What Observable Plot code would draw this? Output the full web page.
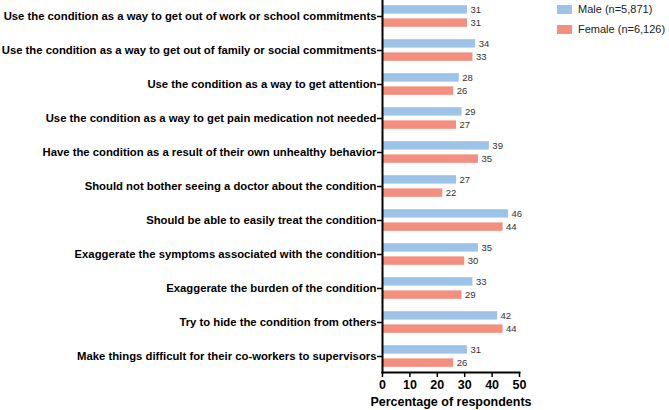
<!DOCTYPE html>
<html><head><meta charset="utf-8">
<script src="https://cdn.jsdelivr.net/npm/d3@7"></script>
<script src="https://cdn.jsdelivr.net/npm/@observablehq/plot@0.6"></script>
<style>
body{margin:0;background:#fff;font-family:"Liberation Sans",Arial,sans-serif;}
#wrap{position:relative;width:669px;height:410px;}
.leg{position:absolute;left:557px;font-size:11px;color:#222;display:flex;align-items:center;white-space:nowrap;}
.leg span.sw{display:inline-block;width:15px;height:9px;margin-right:6px;}
</style></head><body>
<div id="wrap"></div>
<script>
const categories = [
  "Use the condition as a way to get out of work or school commitments",
  "Use the condition as a way to get out of family or social commitments",
  "Use the condition as a way to get attention",
  "Use the condition as a way to get pain medication not needed",
  "Have the condition as a result of their own unhealthy behavior",
  "Should not bother seeing a doctor about the condition",
  "Should be able to easily treat the condition",
  "Exaggerate the symptoms associated with the condition",
  "Exaggerate the burden of the condition",
  "Try to hide the condition from others",
  "Make things difficult for their co-workers to supervisors"
];
const male = [31, 34, 28, 29, 39, 27, 46, 35, 33, 42, 31];
const female = [31, 33, 26, 27, 35, 22, 44, 30, 29, 44, 26];
const seriesNames = ["Male (n=5,871)", "Female (n=6,126)"];
const colors = ["#9dc3e8", "#f48e7e"];
const xTicks = [0, 10, 20, 30, 40, 50];

const maleData = categories.map((c, i) => ({cat: c, v: male[i]}));
const femaleData = categories.map((c, i) => ({cat: c, v: female[i]}));

const yTop = -1.8, yBottom = 374.4;
const barH = 8.6, off = 6.6;
const step = (yBottom - yTop) / categories.length;
const ins = (step - barH) / 2;

const chart = Plot.plot({
  width: 669, height: 410,
  marginLeft: 382, marginRight: 150, marginTop: 0, marginBottom: 38,
  style: {fontFamily: "Liberation Sans, Arial, sans-serif", color: "#000", background: "#fff"},
  x: {domain: [0, 50], label: null},
  y: {domain: categories, padding: 0, range: [yTop, yBottom], label: null},
  marks: [
    Plot.barX(maleData, {x: "v", y: "cat", fill: colors[0], dy: -off, insetTop: ins, insetBottom: ins}),
    Plot.barX(femaleData, {x: "v", y: "cat", fill: colors[1], dy: off, insetTop: ins, insetBottom: ins}),
    Plot.text(maleData, {x: "v", y: "cat", text: "v", dy: -off, dx: 3, textAnchor: "start", fontSize: 9.5, fill: "#333"}),
    Plot.text(femaleData, {x: "v", y: "cat", text: "v", dy: off, dx: 3, textAnchor: "start", fontSize: 9.5, fill: "#333"}),
    Plot.axisY({tickSize: 5, tickPadding: 1, fontSize: 11.3, fontWeight: "bold", strokeWidth: 1.5, label: null}),
    Plot.axisX({ticks: xTicks, tickSize: 5, tickPadding: 3, fontSize: 12.5, fontWeight: "bold", strokeWidth: 1.5, label: null}),
    Plot.frame({anchor: "left", strokeWidth: 2}),
    Plot.frame({anchor: "bottom", strokeWidth: 2}),
    Plot.text(["Percentage of respondents"], {frameAnchor: "bottom", dy: 33, fontSize: 12.5, fontWeight: "bold", fill: "#000"})
  ]
});
const wrap = document.getElementById("wrap");
wrap.appendChild(chart);
seriesNames.forEach((n, i) => {
  const d = document.createElement("div");
  d.className = "leg";
  d.style.top = (3 + i * 20) + "px";
  d.innerHTML = `<span class="sw" style="background:${colors[i]}"></span>${n}`;
  wrap.appendChild(d);
});
</script>
</body></html>
